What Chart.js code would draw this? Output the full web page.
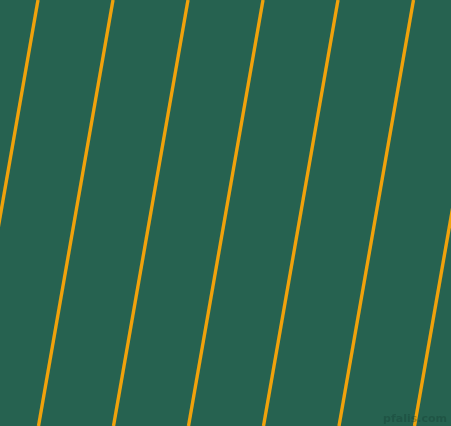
<!DOCTYPE html>
<html>
<head>
<meta charset="utf-8">
<script src="https://cdn.jsdelivr.net/npm/chart.js@4/dist/chart.umd.min.js"></script>
<style>
  html, body { margin: 0; padding: 0; background: #266250; }
  #wrap { position: relative; width: 451px; height: 426px; }
  #stripes { display: block; }
  #mark {
    position: absolute; right: 4px; bottom: 1px;
    font-family: "DejaVu Sans", sans-serif; font-size: 11px; font-weight: bold;
    color: rgba(20, 60, 50, 0.35);
  }
</style>
</head>
<body>
<div id="wrap">
  <canvas id="stripes" width="451" height="426"></canvas>
  <div id="mark">pfalis.com</div>
</div>
<script>
// where each stripe crosses the top edge and the bottom edge
const topX = [38, 113, 188, 263, 338, 413.5, 489];
const bottomX = [-36.5, 38.5, 113.5, 188.5, 263.5, 339, 414.5];
const yTop = 0;
const yBottom = 426;

const lineColor = '#f0a20c';
const bgColor = '#266250';

const datasets = topX.map((x, i) => ({
    data: [{x: x, y: yTop}, {x: bottomX[i], y: yBottom}],
    borderColor: lineColor,
    borderWidth: 3.4,
    pointRadius: 0,
    fill: false,
    tension: 0
}));

// paint the background behind the chart
const bgPlugin = {
    id: 'bg',
    beforeDraw(chart) {
        const ctx = chart.ctx;
        ctx.save();
        ctx.fillStyle = bgColor;
        ctx.fillRect(0, 0, chart.width, chart.height);
        ctx.restore();
    }
};

const ctx = document.getElementById('stripes').getContext('2d');
window.myChart = new Chart(ctx, {
    type: 'line',
    data: { datasets: datasets },
    options: {
        responsive: false,
        animation: false,
        devicePixelRatio: 1,
        layout: { padding: 0 },
        plugins: { legend: { display: false }, tooltip: { enabled: false } },
        scales: {
            x: { type: 'linear', min: 0, max: 451, display: false },
            y: { type: 'linear', min: 0, max: 426, reverse: true, display: false }
        }
    },
    plugins: [bgPlugin]
});
</script>
</body>
</html>
